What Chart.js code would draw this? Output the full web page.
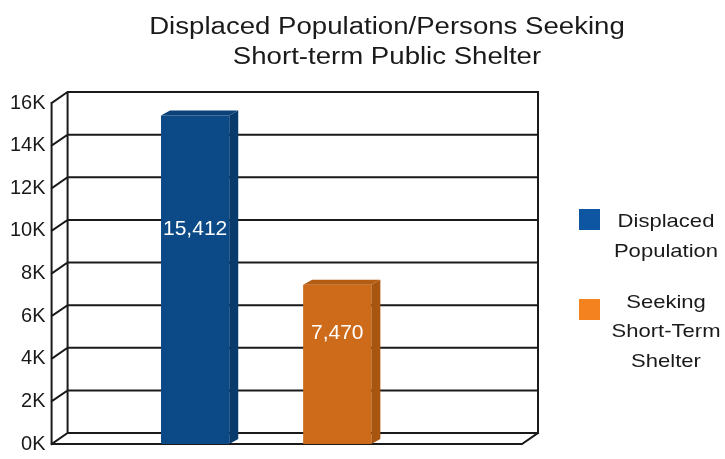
<!DOCTYPE html>
<html>
<head>
<meta charset="utf-8">
<script src="https://cdn.jsdelivr.net/npm/chart.js@4/dist/chart.umd.min.js"></script>
<style>
  html, body { margin: 0; padding: 0; background: #fff; }
  #wrap { position: relative; width: 725px; height: 459px; }
</style>
</head>
<body>
<div id="wrap"><canvas id="shelterChart"></canvas></div>
<script>
/* ---------- data ---------- */
const TITLE_LINES = ["Displaced Population/Persons Seeking", "Short-term Public Shelter"];
const CATEGORIES  = ["Displaced Population", "Seeking Short-Term Shelter"];
const VALUES      = [15412, 7470];
const Y_MAX  = 16000;
const Y_STEP = 2000;

/* ---------- colours ---------- */
const FRONT_COLORS  = ["#0c4a87", "#cd6b1b"];
const SIDE_COLORS   = ["#083a6c", "#a8550f"];
const TOP_COLORS    = ["#0a4179", "#b45d12"];
const LEGEND_COLORS = ["#0e56a1", "#f4821f"];
const INK  = "#1a1a1a";
const FONT = '"Liberation Sans", Arial, sans-serif';

/* depth of the box walls and of each bar */
const WALL_DX = 16, WALL_DY = -11;
const BAR_DX  = 9,  BAR_DY  = -5;

function stretchedText(ctx, text, x, y, sx) {
  ctx.save();
  ctx.translate(x, y);
  ctx.scale(sx, 1);
  ctx.fillText(text, 0, 0);
  ctx.restore();
}

const box3d = {
  id: "box3d",

  // back wall, left wall and floor of the box
  beforeDatasetsDraw(chart) {
    const { ctx, chartArea: a, scales: { y } } = chart;
    ctx.save();
    ctx.strokeStyle = INK;
    ctx.lineWidth = 2;
    ctx.lineCap = "square";
    ctx.beginPath();
    y.ticks.forEach(t => {
      const py = y.getPixelForValue(t.value);
      ctx.moveTo(a.left, py);
      ctx.lineTo(a.left + WALL_DX, py + WALL_DY);
      ctx.lineTo(a.right + WALL_DX, py + WALL_DY);
    });
    // back wall edges
    ctx.moveTo(a.left + WALL_DX, a.top + WALL_DY);
    ctx.lineTo(a.left + WALL_DX, a.bottom + WALL_DY);
    ctx.moveTo(a.right + WALL_DX, a.top + WALL_DY);
    ctx.lineTo(a.right + WALL_DX, a.bottom + WALL_DY);
    // front axis and floor edge
    ctx.moveTo(a.left, a.top);
    ctx.lineTo(a.left, a.bottom);
    ctx.lineTo(a.right, a.bottom);
    ctx.lineTo(a.right + WALL_DX, a.bottom + WALL_DY);
    ctx.stroke();
    ctx.restore();
  },

  // side and top faces of the bars, plus value labels
  afterDatasetsDraw(chart) {
    const { ctx } = chart;
    chart.data.datasets.forEach((ds, i) => {
      const meta = chart.getDatasetMeta(i);
      meta.data.forEach((bar, j) => {
        const { x, y, base, width } = bar.getProps(["x", "y", "base", "width"], true);
        const l = x - width / 2, r = x + width / 2;
        ctx.save();
        ctx.fillStyle = SIDE_COLORS[i];
        ctx.beginPath();
        ctx.moveTo(r, y);
        ctx.lineTo(r + BAR_DX, y + BAR_DY);
        ctx.lineTo(r + BAR_DX, base + BAR_DY);
        ctx.lineTo(r, base);
        ctx.closePath();
        ctx.fill();
        ctx.fillStyle = TOP_COLORS[i];
        ctx.beginPath();
        ctx.moveTo(l, y);
        ctx.lineTo(l + BAR_DX, y + BAR_DY);
        ctx.lineTo(r + BAR_DX, y + BAR_DY);
        ctx.lineTo(r, y);
        ctx.closePath();
        ctx.fill();

        const v = ds.data[j].y;
        ctx.fillStyle = "#ffffff";
        ctx.font = "21px " + FONT;
        ctx.textAlign = "center";
        ctx.textBaseline = "middle";
        ctx.fillText(v.toLocaleString("en-US"), x, y + (base - y) * 0.39 - 14);
        ctx.restore();
      });
    });
  },

  // title and the legend on the right
  afterDraw(chart) {
    const { ctx } = chart;
    ctx.save();
    ctx.fillStyle = INK;
    ctx.textAlign = "center";
    ctx.textBaseline = "alphabetic";
    ctx.font = "23px " + FONT;
    TITLE_LINES.forEach((line, k) => stretchedText(ctx, line, 387, 34 + k * 30, 1.2));

    ctx.font = "19px " + FONT;
    chart.data.datasets.forEach((ds, i) => {
      const sqTop = 209 + i * 90;
      ctx.fillStyle = LEGEND_COLORS[i];
      ctx.fillRect(579, sqTop, 21, 21);
      const words = ds.label.split(" ");
      const textTop = 227 - (words.length - 2) * 14.5 + i * 95;
      ctx.fillStyle = INK;
      words.forEach((w, k) => stretchedText(ctx, w, 666, textTop + k * 29.5, 1.16));
    });
    ctx.restore();
  }
};

const datasets = CATEGORIES.map((name, i) => ({
  label: name,
  data: [{ x: i, y: VALUES[i] }],
  backgroundColor: FRONT_COLORS[i],
  borderWidth: 0,
  grouped: false,
  categoryPercentage: 1,
  barPercentage: 0.48
}));

new Chart(document.getElementById("shelterChart"), {
  type: "bar",
  data: { datasets },
  plugins: [box3d],
  options: {
    responsive: true,
    maintainAspectRatio: false,
    animation: false,
    layout: { padding: { left: 4, right: 203, top: 103, bottom: 9 } },
    plugins: {
      legend:  { display: false },
      title:   { display: false },
      tooltip: { enabled: false }
    },
    scales: {
      x: {
        type: "linear",
        min: -1.01,
        max: 2.3,
        offset: false,
        display: false,
        // one tick per bar, so the bar width follows the bar spacing
        afterBuildTicks: s => { s.ticks = CATEGORIES.map((_, i) => ({ value: i })); }
      },
      y: {
        min: 0,
        max: Y_MAX,
        border: { display: false },
        grid: { display: false, drawTicks: false },
        ticks: {
          stepSize: Y_STEP,
          padding: 6,
          color: INK,
          font: { family: FONT, size: 20, lineHeight: 0.9 },
          callback: v => (v / 1000) + "K"
        }
      }
    }
  }
});
</script>
</body>
</html>
